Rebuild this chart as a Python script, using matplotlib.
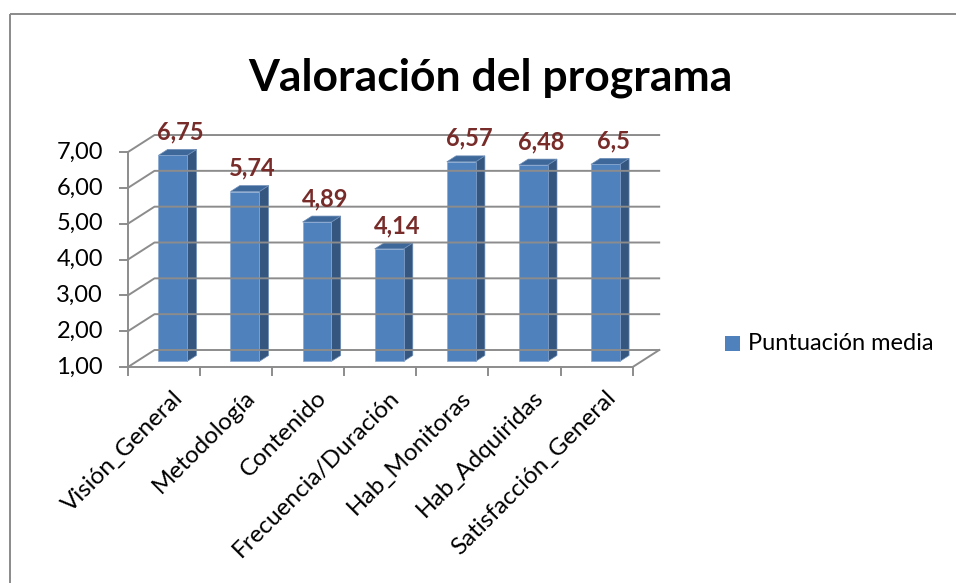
import matplotlib.pyplot as plt
from matplotlib.patches import Polygon, Rectangle

plt.rcParams['font.family'] = ['Lato', 'DejaVu Sans']

categories = ['Visión_General', 'Metodología', 'Contenido', 'Frecuencia/Duración',
              'Hab_Monitoras', 'Hab_Adquiridas', 'Satisfacción_General']
values = [6.75, 5.74, 4.89, 4.14, 6.57, 6.48, 6.5]
value_labels = ['6,75', '5,74', '4,89', '4,14', '6,57', '6,48', '6,5']
yticks = [1, 2, 3, 4, 5, 6, 7]
ytick_labels = ['1,00', '2,00', '3,00', '4,00', '5,00', '6,00', '7,00']
title = 'Valoración del programa'
series_name = 'Puntuación media'

# pseudo-3d projection (pixel space)
X0, CW = 128, 72.1
Y0, VS = 367, 35.83
DX, DY = 26.5, -17

def proj(c, v, t):
  return (X0 + CW * c + DX * t, Y0 - VS * (v - yticks[0]) + DY * t)

grid_c = '#8c8c8c'
front_c = '#4F81BD'
side_c = '#34567F'
top_c = '#3E6899'
lab_c = '#772C2A'
fs = 17

fig = plt.figure(figsize=(9.56, 5.83), dpi=100)
ax = fig.add_axes([0, 0, 1, 1])
ax.set_xlim(0, 956)
ax.set_ylim(583, 0)
ax.axis('off')

ax.add_patch(Rectangle((10, 14), 1000, 1000, fill=False, ec='#8a8a8a', lw=1.4))

n = len(categories)
vmin, vmax = yticks[0], yticks[-1]

# walls and grid
for v, lab in zip(yticks, ytick_labels):
  a = proj(0, v, 0); b = proj(0, v, 1); c = proj(n, v, 1)
  ax.plot([a[0], b[0], c[0]], [a[1], b[1], c[1]], color=grid_c, lw=1.4)
  ax.plot([a[0] - 8, a[0]], [a[1], a[1]], color=grid_c, lw=1.4)
  ax.text(a[0] - 25, a[1], lab, ha='right', va='center', fontsize=fs, color='black')
a = proj(0, vmin, 0); b = proj(0, vmax, 0)
ax.plot([a[0], b[0]], [a[1], b[1]], color=grid_c, lw=1.4)
# floor
f = [proj(0, vmin, 0), proj(n, vmin, 0), proj(n, vmin, 1)]
ax.plot([p[0] for p in f], [p[1] for p in f], color=grid_c, lw=1.4)
for i in range(n + 1):
  p = proj(i, vmin, 0)
  ax.plot([p[0], p[0]], [p[1], p[1] + 8], color=grid_c, lw=1.4)

# bars
w = 0.40
t0, t1 = 0.33, 0.68
for i, v in enumerate(values):
  xl, xr = i + (1 - w) / 2, i + (1 + w) / 2
  front = [proj(xl, vmin, t0), proj(xr, vmin, t0), proj(xr, v, t0), proj(xl, v, t0)]
  side = [proj(xr, vmin, t0), proj(xr, vmin, t1), proj(xr, v, t1), proj(xr, v, t0)]
  top = [proj(xl, v, t0), proj(xr, v, t0), proj(xr, v, t1), proj(xl, v, t1)]
  ax.add_patch(Polygon(side, fc=side_c, ec='#6f8fb8', lw=0.5))
  ax.add_patch(Polygon(top, fc=top_c, ec='#6f8fb8', lw=0.5))
  ax.add_patch(Polygon(front, fc=front_c, ec='#8aa8d0', lw=0.5))
  lx, _ = proj(i + 0.5, v, 0.55)
  _, ly = proj(i + 0.5, v, t1)
  ax.text(lx + 2, ly - 10, value_labels[i], ha='center', va='baseline',
          fontsize=fs, fontweight='bold', color=lab_c)
  cx, cy = proj(i + 0.5, vmin, 0)
  ax.text(cx + 8, cy + 20, categories[i], ha='right', va='top', rotation=45,
          rotation_mode='anchor', fontsize=17.5, color='black')

ax.text(490, 90, title, ha='center', va='baseline', fontsize=32, fontweight='bold')

ax.add_patch(Rectangle((725, 336), 15, 15, fc=front_c, ec='none'))
ax.text(748, 344, series_name, ha='left', va='center', fontsize=fs)

fig.savefig('out.png', dpi=100)
